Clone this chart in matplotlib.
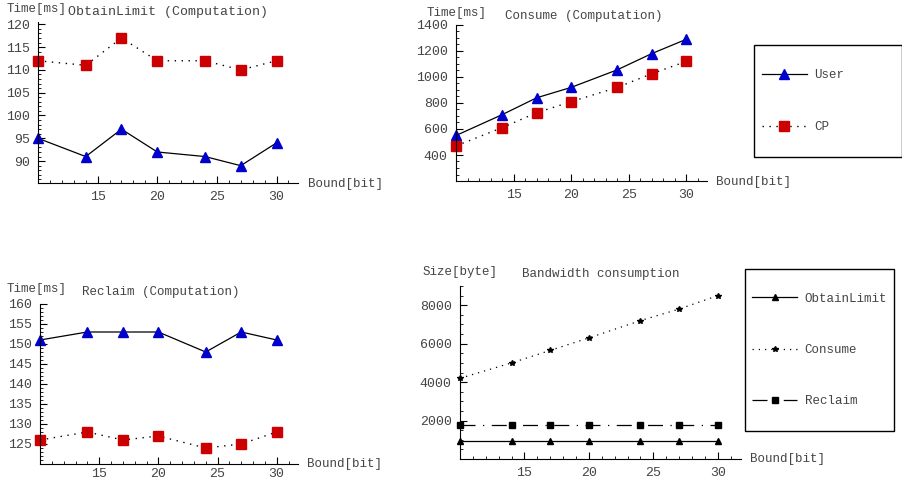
import matplotlib
matplotlib.use('Agg')

import matplotlib.pyplot as plt
from matplotlib.patches import Rectangle
from matplotlib.ticker import MultipleLocator

# data
bounds = [10, 14, 17, 20, 24, 27, 30]

obtain_user = [95, 91, 97, 92, 91, 89, 94]
obtain_cp = [112, 111, 117, 112, 112, 110, 112]

consume_user = [550, 710, 840, 920, 1055, 1180, 1290]
consume_cp = [470, 610, 725, 810, 920, 1025, 1120]

reclaim_user = [151, 153, 153, 153, 148, 153, 151]
reclaim_cp = [126, 128, 126, 127, 124, 125, 128]

bw_obtain = [950, 950, 950, 950, 950, 950, 950]
bw_consume = [4200, 5000, 5650, 6300, 7200, 7800, 8500]
bw_reclaim = [1780, 1780, 1780, 1780, 1780, 1780, 1780]

W, H = 903, 478
BLUE = '#0000cc'
RED = '#cc0000'
TXT = '#444444'

plt.rcParams['font.family'] = 'Liberation Mono'
plt.rcParams['font.size'] = 9

fig = plt.figure(figsize=(W / 100, H / 100), dpi=100)


def make_axes(x0, x1, ybot, ytop):
    # pixel box -> figure fraction
    ax = fig.add_axes([x0 / W, (H - ybot) / H, (x1 - x0) / W, (ybot - ytop) / H])
    ax.spines['top'].set_visible(False)
    ax.spines['right'].set_visible(False)
    ax.patch.set_alpha(0)
    ax.tick_params(which='both', direction='in', colors='black', labelcolor=TXT, labelsize=9.5)
    ax.tick_params(which='major', length=5, pad=6)
    ax.tick_params(which='minor', length=2.5)
    ax.xaxis.set_minor_locator(MultipleLocator(1))
    ax.set_xticks([15, 20, 25, 30])
    ax.set_xlim(10, 31.8)
    return ax


def ptext(x, y, s, **kw):
    fig.text(x / W, 1 - y / H, s, color=TXT, va='center', ha='left', **kw)


def legend_box(handles, x0, y0, x1, y1, hx, ymid, spacing):
    fig.patches.append(Rectangle((x0 / W, 1 - y1 / H), (x1 - x0) / W, (y1 - y0) / H,
                                 transform=fig.transFigure, fill=False,
                                 edgecolor='black', lw=1))
    fig.legend(handles=handles, loc='center left', bbox_to_anchor=(hx / W, 1 - ymid / H),
               frameon=False, borderpad=0, borderaxespad=0, labelspacing=spacing,
               handlelength=3.6, handletextpad=0.6, labelcolor=TXT, fontsize=9)


# ObtainLimit
ax1 = make_axes(38, 298, 183, 22)
ax1.plot(bounds, obtain_user, color='black', lw=0.9, marker='^', ms=7,
         mfc=BLUE, mec=BLUE, clip_on=False)
ax1.plot(bounds, obtain_cp, color='black', lw=1, ls=(0, (1, 4)), marker='s', ms=6.5,
         mfc=RED, mec=RED, clip_on=False)
ax1.set_ylim(85.2, 120.5)
ax1.yaxis.set_minor_locator(MultipleLocator(1))
ax1.set_yticks([90, 95, 100, 105, 110, 115, 120])
ptext(7, 9, 'Time[ms]')
ptext(68, 12, 'ObtainLimit (Computation)', fontsize=9.5)
ptext(308, 184, 'Bound[bit]')

# Consume
ax2 = make_axes(456, 707, 181, 25)
l_user, = ax2.plot(bounds, consume_user, color='black', lw=0.9, marker='^', ms=7,
                   mfc=BLUE, mec=BLUE, clip_on=False, label='User')
l_cp, = ax2.plot(bounds, consume_cp, color='black', lw=1, ls=(0, (1, 4)), marker='s', ms=6.5,
                 mfc=RED, mec=RED, clip_on=False, label='CP')
ax2.set_ylim(200, 1400)
ax2.set_yticks([400, 600, 800, 1000, 1200, 1400])
ax2.yaxis.set_minor_locator(MultipleLocator(50))
ptext(427, 13, 'Time[ms]')
ptext(505, 16, 'Consume (Computation)')
ptext(716, 182, 'Bound[bit]')
legend_box([l_user, l_cp], 754, 45, 902, 157, 762, 101, 3.2)

# Reclaim
ax3 = make_axes(40, 298, 464, 304)
ax3.plot(bounds, reclaim_user, color='black', lw=0.9, marker='^', ms=7,
         mfc=BLUE, mec=BLUE, clip_on=False)
ax3.plot(bounds, reclaim_cp, color='black', lw=1, ls=(0, (1, 4)), marker='s', ms=6.5,
         mfc=RED, mec=RED, clip_on=False)
ax3.set_ylim(120, 160)
ax3.set_yticks([125, 130, 135, 140, 145, 150, 155, 160])
ax3.yaxis.set_minor_locator(MultipleLocator(1))
ax3.tick_params(axis='x', which='major', pad=3)
ptext(7, 289, 'Time[ms]')
ptext(82, 292, 'Reclaim (Computation)')
ptext(307, 464, 'Bound[bit]')

# Bandwidth
ax4 = make_axes(460, 741, 459, 286)
b1, = ax4.plot(bounds, bw_obtain, color='black', lw=0.9, marker='^', ms=4,
               clip_on=False, label='ObtainLimit')
b2, = ax4.plot(bounds, bw_consume, color='black', lw=0.9, ls=(0, (1, 4)), marker='*', ms=4,
               clip_on=False, label='Consume')
b3, = ax4.plot(bounds, bw_reclaim, color='black', lw=0.9, ls=(0, (12, 6, 1, 6)), marker='s', ms=5,
               clip_on=False, label='Reclaim')
ax4.set_ylim(0, 9000)
ax4.set_yticks([2000, 4000, 6000, 8000])
ax4.yaxis.set_minor_locator(MultipleLocator(500))
ptext(423, 272, 'Size[byte]')
ptext(522, 274, 'Bandwidth consumption')
ptext(750, 459, 'Bound[bit]')
legend_box([b1, b2, b3], 745, 269, 894, 431, 752, 350, 3.15)

fig.savefig('out.png', dpi=100)
plt.close(fig)
